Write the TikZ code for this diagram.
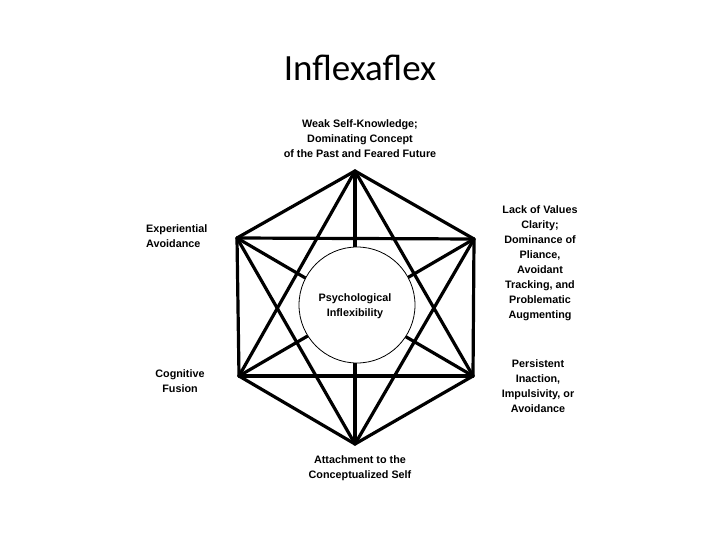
\documentclass[tikz,border=0pt]{standalone}
\usepackage{fontspec}
\setmainfont{Liberation Sans}
\newfontfamily\titlefont{Carlito}
\begin{document}
\begin{tikzpicture}[x=1pt,y=-1pt,
  edge/.style={line width=3.2pt,line cap=round,line join=round},
  lab/.style={font=\bfseries\fontsize{10.8}{15}\selectfont,align=center,inner sep=0pt}]
\useasboundingbox (0,0) rectangle (720,540);
\coordinate (t) at (355,171);
\coordinate (ul) at (237,238);
\coordinate (ur) at (474,239);
\coordinate (ll) at (239,376);
\coordinate (lr) at (473,376);
\coordinate (b) at (355,444);
\foreach \a/\bb in {t/ul,t/ur,t/ll,t/lr,t/b,ul/ur,ul/ll,ul/lr,ul/b,ur/ll,ur/lr,ur/b,ll/lr,ll/b,lr/b}
  \draw[edge] (\a) -- (\bb);
\node[circle,draw,fill=white,line width=0.8pt,minimum size=116pt] (c) at (357,305) {};
\node[lab] (ct) at (355,306) {Psychological\\Inflexibility};
\node[font=\titlefont\fontsize{37}{44}\selectfont] (title) at (360,68) {Inflexaflex};
\node[lab] (lt) at (360,139) {Weak Self-Knowledge;\\Dominating Concept\\of the Past and Feared Future};
\node[lab,align=left,anchor=west] (lul) at (146,236) {Experiential\\Avoidance};
\node[lab] (lll) at (180,381) {Cognitive\\Fusion};
\node[lab] (lur) at (540,263) {Lack of Values\\Clarity;\\Dominance of\\Pliance,\\Avoidant\\Tracking, and\\Problematic\\Augmenting};
\node[lab] (llr) at (538,386) {Persistent\\Inaction,\\Impulsivity, or\\Avoidance};
\node[lab] (lb) at (360,468) {Attachment to the\\Conceptualized Self};
\end{tikzpicture}
\end{document}
